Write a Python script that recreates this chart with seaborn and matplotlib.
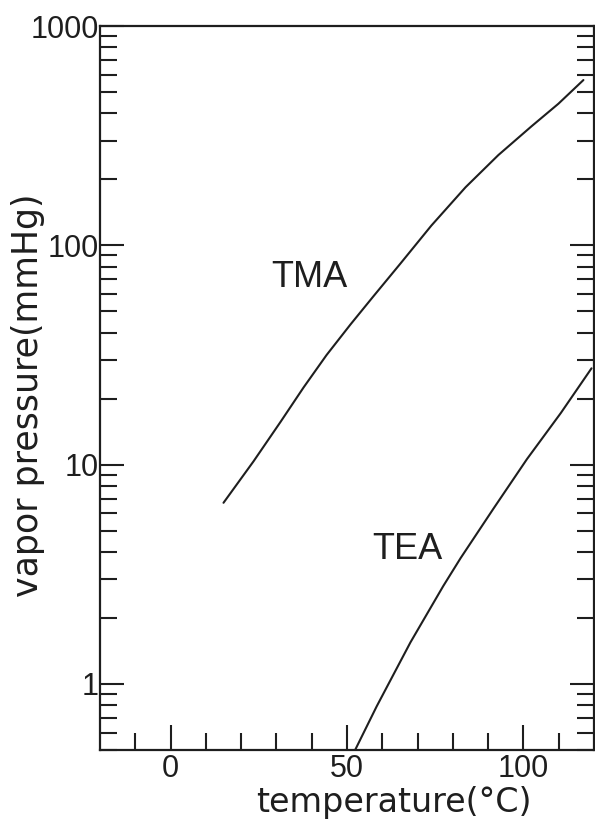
import numpy as np
import pandas as pd
import matplotlib
matplotlib.use("Agg")
import matplotlib.pyplot as plt
from matplotlib.ticker import FixedLocator, NullFormatter, LogLocator
import seaborn as sns

# ---- data ----
tma_temp = [15.0, 23.5, 31.2, 37.7, 44.2, 51.0, 57.5, 65.2, 73.9, 83.6, 92.9, 102.3, 109.9, 117.0]
tma_pres = [6.7, 10.35, 15.7, 22.5, 31.6, 43.6, 58.6, 82.8, 123.0, 184.0, 258.0, 349.0, 442.0, 567.0]
tea_temp = [52.3, 58.4, 68.0, 77.3, 82.2, 91.5, 101.0, 110.6, 119.3]
tea_pres = [0.5, 0.79, 1.55, 2.8, 3.75, 6.3, 10.6, 17.2, 27.5]

x_major = [0, 50, 100]
x_minor = [-10, 10, 20, 30, 40, 60, 70, 80, 90, 110]
y_major = [1, 10, 100, 1000]
y_labels = ["1", "10", "100", "1000"]

label_tma = ("TMA", 39.4, 71.0)
label_tea = ("TEA", 67.1, 4.1)

df = pd.DataFrame({
    "temperature": tma_temp + tea_temp,
    "pressure": tma_pres + tea_pres,
    "compound": ["TMA"] * len(tma_temp) + ["TEA"] * len(tea_temp),
})

sns.set_style("ticks")
plt.rcParams["font.family"] = ["DejaVu Sans"]

ink = "#1e1e1e"
fig = plt.figure(figsize=(5.95, 8.25), dpi=100)
ax = fig.add_axes([100 / 595, 75 / 825, 494 / 595, 724 / 825])

sns.lineplot(data=df, x="temperature", y="pressure", hue="compound",
             palette={"TMA": ink, "TEA": ink}, legend=False, ax=ax,
             linewidth=1.5, sort=True, estimator=None)

ax.set_yscale("log")
ax.set_xlim(-20, 120)
ax.set_ylim(0.5, 1000)

for s in ax.spines.values():
    s.set_color(ink)
    s.set_linewidth(1.6)

ax.xaxis.set_major_locator(FixedLocator(x_major))
ax.xaxis.set_minor_locator(FixedLocator(x_minor))
ax.yaxis.set_major_locator(FixedLocator(y_major))
ax.yaxis.set_minor_locator(LogLocator(base=10, subs=np.arange(2, 10)))
ax.yaxis.set_minor_formatter(NullFormatter())
ax.set_yticklabels(y_labels)
ax.set_xticklabels([str(v) for v in x_major])

tick_font = ["Liberation Sans", "DejaVu Sans"]
ax.tick_params(axis="both", which="both", direction="in", color=ink, width=1.5)
ax.tick_params(axis="y", which="major", length=17, left=True, right=True, pad=1,
               labelsize=22, labelcolor=ink)
ax.tick_params(axis="y", which="minor", length=12, left=True, right=True)
ax.tick_params(axis="x", which="major", length=18, top=False, pad=3,
               labelsize=22, labelcolor=ink)
ax.tick_params(axis="x", which="minor", length=12, top=False)
for t in ax.get_xticklabels() + ax.get_yticklabels():
    t.set_fontfamily(tick_font)

ax.set_xlabel("temperature(°C)", fontsize=24, color=ink, va="center")
ax.xaxis.set_label_coords(0.595, -0.073)
ax.set_ylabel("vapor pressure(mmHg)", fontsize=25, color=ink, va="center")
ax.yaxis.set_label_coords(-0.146, 0.49)

for name, tx, ty in (label_tma, label_tea):
    ax.text(tx, ty, name, fontsize=26, color=ink, ha="center", va="center",
            family=["Liberation Sans", "DejaVu Sans"])

fig.savefig("out.png", dpi=100, facecolor="white")
